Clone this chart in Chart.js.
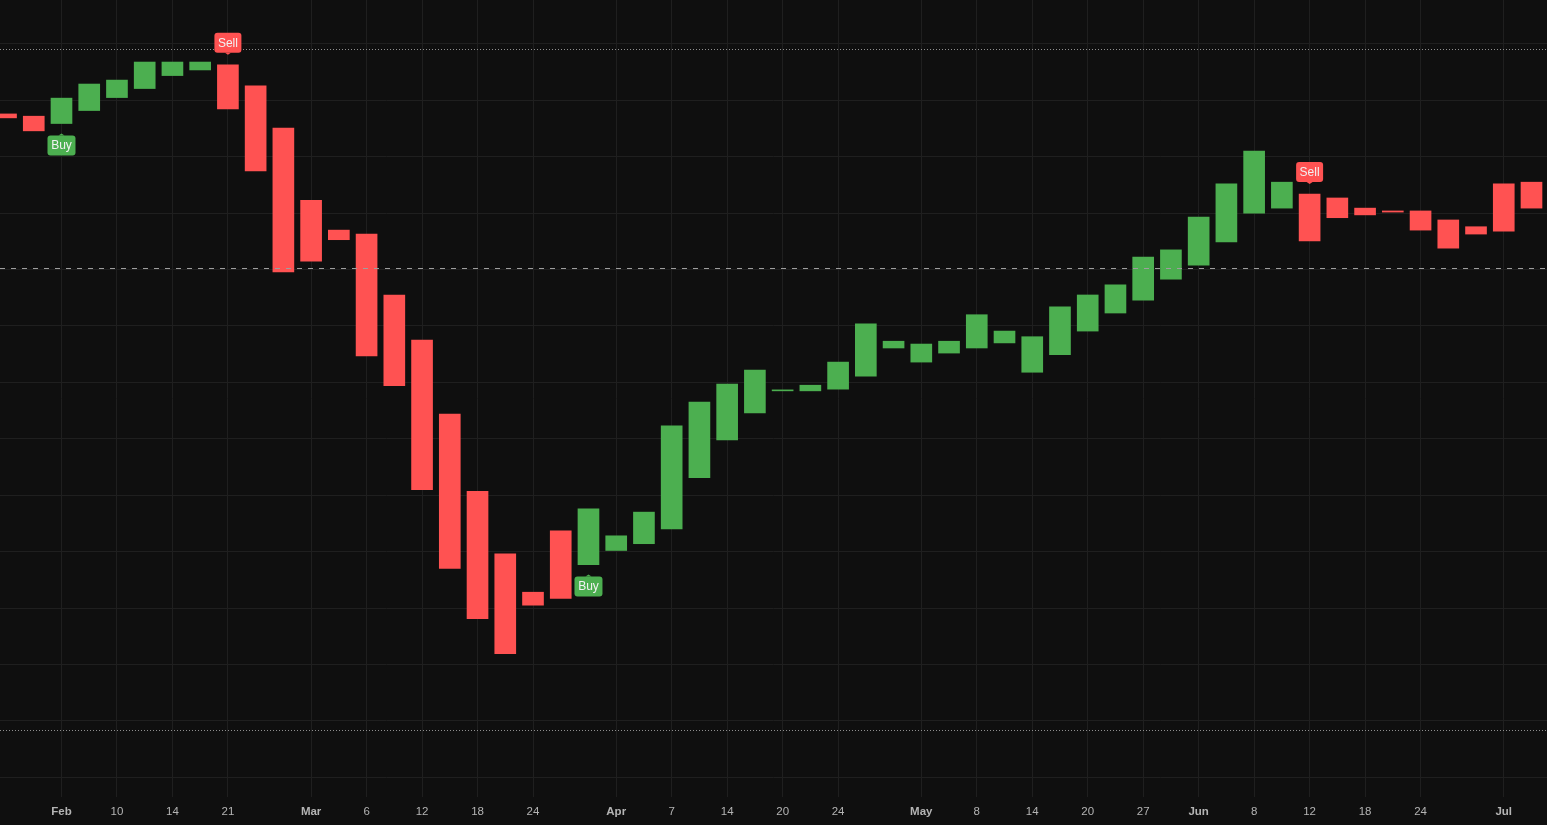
<!DOCTYPE html>
<html>
<head>
<meta charset="utf-8">
<script src="https://cdn.jsdelivr.net/npm/chart.js@4.4.1/dist/chart.umd.min.js"></script>
<style>
  html, body { margin: 0; padding: 0; background: #0f0f0f; overflow: hidden; }
  #wrap { width: 1547px; height: 825px; position: relative; }
</style>
</head>
<body>
<div id="wrap"><canvas id="grafico"></canvas></div>
<script>
// ===============================
// Data
// ===============================
const opens = [
  167.6, 167.2, 165.9, 168.2, 170.5, 172.1, 174.4, 175.4, 176.3, 172.6,
  165.1, 152.3, 147.0, 146.3, 135.5, 127.5, 114.4, 100.7, 89.6, 82.8,
  93.7, 87.7, 90.2, 91.4, 94.0, 103.1, 109.8, 114.6, 118.5, 118.5,
  118.8, 121.1, 126.1, 123.6, 125.2, 126.1, 127.0, 121.8, 124.9, 129.1,
  132.3, 134.6, 138.3, 140.8, 144.9, 150.0, 150.9, 153.4, 152.7, 150.9,
  150.4, 150.4, 148.8, 147.6, 155.2, 155.5
];
const closes = [
  166.9, 164.6, 170.4, 172.9, 173.6, 176.8, 176.8, 176.8, 168.5, 157.5,
  139.6, 141.5, 145.3, 124.7, 119.4, 101.0, 87.0, 78.1, 71.9, 80.5,
  81.7, 97.6, 92.8, 97.0, 112.3, 116.5, 119.7, 122.2, 118.65, 119.5,
  123.6, 130.4, 127.3, 126.8, 127.3, 132.0, 129.1, 128.1, 133.4, 135.5,
  137.3, 142.2, 143.5, 149.3, 155.2, 161.0, 155.5, 145.1, 149.2, 149.7,
  150.2, 147.0, 143.8, 146.3, 146.8, 150.9
];

// x tick labels (bar index -> label)
const xTickIdx = [2, 4, 6, 8, 11, 13, 15, 17, 19, 22, 24, 26, 28, 30, 33, 35, 37, 39, 41, 43, 45, 47, 49, 51, 54];
const xTickLabels = ["Feb", "10", "14", "21", "Mar", "6", "12", "18", "24", "Apr", "7", "14", "20", "24",
  "May", "8", "14", "20", "27", "Jun", "8", "12", "18", "24", "Jul"];
const monthLabels = ["Feb", "Mar", "Apr", "May", "Jun", "Jul"];

// y grid levels
const yTicks = [50, 60, 70, 80, 90, 100, 110, 120, 130, 140, 150, 160, 170, 180];

// signals
const signalIdx = [2, 8, 21, 47];
const signalType = ["Buy", "Sell", "Buy", "Sell"];

// reference lines
const upperLevel = 179.1;
const lowerLevel = 58.4;
const priceLevel = 140.3;

const verde = "#4caf50";
const rojo = "#ff5252";
const fuente = '"Liberation Sans", Arial, sans-serif';

const velas = opens.map((o, i) => ({ x: i, y: [o, closes[i]] }));

// ===============================
// Plugins
// ===============================
const fondo = {
  id: "fondo",
  beforeDraw(chart) {
    const { ctx, width, height } = chart;
    ctx.save();
    ctx.fillStyle = "#0f0f0f";
    ctx.fillRect(0, 0, width, height);
    ctx.restore();
  }
};

const lineas = {
  id: "lineas",
  afterDatasetsDraw(chart) {
    const { ctx, chartArea, scales: { y } } = chart;
    ctx.save();
    ctx.lineWidth = 1;

    ctx.strokeStyle = "#8f8f8f";
    ctx.setLineDash([1, 2]);
    [upperLevel, lowerLevel].forEach(v => {
      const py = Math.round(y.getPixelForValue(v)) + 0.5;
      ctx.beginPath();
      ctx.moveTo(chartArea.left, py);
      ctx.lineTo(chartArea.right, py);
      ctx.stroke();
    });

    ctx.strokeStyle = "#9e9e9e";
    ctx.setLineDash([5, 6]);
    const py = Math.round(y.getPixelForValue(priceLevel)) + 0.5;
    ctx.beginPath();
    ctx.moveTo(chartArea.left, py);
    ctx.lineTo(chartArea.right, py);
    ctx.stroke();
    ctx.restore();
  }
};

const senales = {
  id: "senales",
  afterDatasetsDraw(chart) {
    const { ctx, scales: { x, y } } = chart;
    ctx.save();
    ctx.font = "12px " + fuente;
    ctx.textAlign = "center";
    ctx.textBaseline = "middle";

    signalIdx.forEach((i, k) => {
      const tipo = signalType[k];
      const color = tipo === "Buy" ? verde : rojo;
      const px = x.getPixelForValue(i);
      const alto = y.getPixelForValue(Math.max(opens[i], closes[i]));
      const bajo = y.getPixelForValue(Math.min(opens[i], closes[i]));
      const w = Math.round(ctx.measureText(tipo).width + 7);
      const h = 20;
      let tip, top;
      if (tipo === "Sell") {
        tip = alto - 10;
        top = tip - 2 - h;
      } else {
        tip = bajo + 10;
        top = tip + 2;
      }
      ctx.fillStyle = color;
      ctx.beginPath();
      ctx.roundRect(px - w / 2, top, w, h, 3);
      ctx.fill();
      ctx.beginPath();
      if (tipo === "Sell") {
        ctx.moveTo(px - 3, top + h);
        ctx.lineTo(px + 3, top + h);
        ctx.lineTo(px, tip);
      } else {
        ctx.moveTo(px - 3, top);
        ctx.lineTo(px + 3, top);
        ctx.lineTo(px, tip);
      }
      ctx.closePath();
      ctx.fill();

      ctx.fillStyle = "#f2f2f2";
      ctx.fillText(tipo, px, top + h / 2 + 0.5);
    });
    ctx.restore();
  }
};

// ===============================
// Chart
// ===============================
new Chart(document.getElementById("grafico"), {
  type: "bar",
  data: {
    datasets: [{
      data: velas,
      backgroundColor: ctx => {
        const i = ctx.dataIndex;
        return closes[i] >= opens[i] ? verde : rojo;
      },
      borderWidth: 0,
      barThickness: 21,
      minBarLength: 1
    }]
  },
  options: {
    responsive: true,
    maintainAspectRatio: false,
    animation: false,
    layout: { padding: 0 },
    plugins: {
      legend: { display: false },
      tooltip: { enabled: false }
    },
    scales: {
      x: {
        type: "linear",
        min: -0.217,
        max: 55.559,
        offset: false,
        grid: { color: "#1f1f1f", offset: false, drawTicks: false },
        border: { display: false },
        afterBuildTicks: s => { s.ticks = xTickIdx.map(v => ({ value: v })); },
        afterFit: s => { s.height = 28; },
        ticks: {
          autoSkip: false,
          maxRotation: 0,
          padding: 8,
          color: "#b4b4b4",
          callback: v => {
            const k = xTickIdx.indexOf(v);
            return k >= 0 ? xTickLabels[k] : "";
          },
          font: ctx => {
            const k = xTickIdx.indexOf(ctx.tick ? ctx.tick.value : -1);
            const bold = k >= 0 && monthLabels.includes(xTickLabels[k]);
            return { family: fuente, size: 11.5, weight: bold ? "bold" : "normal" };
          }
        }
      },
      y: {
        type: "linear",
        min: 46.49,
        max: 187.8,
        grid: { color: "#1f1f1f", drawTicks: false },
        border: { display: false },
        afterBuildTicks: s => { s.ticks = yTicks.map(v => ({ value: v })); },
        afterFit: s => { s.width = 0; },
        ticks: { display: false }
      }
    }
  },
  plugins: [fondo, lineas, senales]
});
</script>
</body>
</html>
